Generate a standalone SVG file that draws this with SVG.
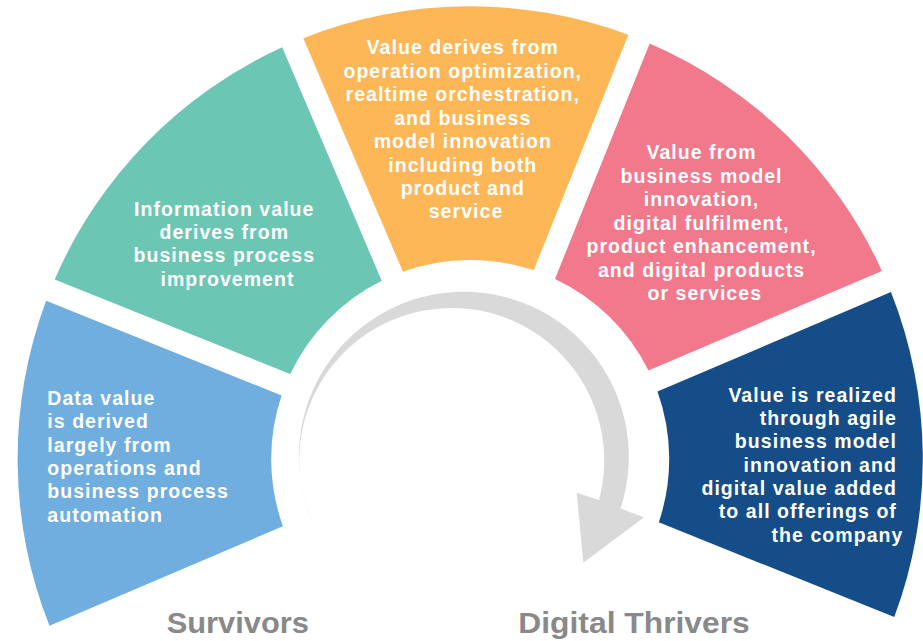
<svg xmlns="http://www.w3.org/2000/svg" width="923" height="641" viewBox="0 0 923 641">
  <style>
    .seg { stroke: none; }
    .lbl { font-family: "Liberation Sans", Arial, sans-serif; font-weight: bold; font-size: 19.5px; letter-spacing: 1.05px; fill: #ffffff; }
    .mid { text-anchor: middle; }
    .end { text-anchor: end; }
    .title { font-family: "Liberation Sans", Arial, sans-serif; font-weight: bold; font-size: 29.5px; fill: #898989; }
    .arrow { fill: #d9d9d9; stroke: none; }
  </style>
  <rect width="923" height="641" fill="#ffffff"/>

  <g id="seg-data">
    <path class="seg" fill="#6faede" transform="translate(470.2 458.9) rotate(-0.59)" d="M -422.41 162.52 A 452.6 452.6 0 0 1 -422.41 -162.52 L -187.95 -65.40 A 199 199 0 0 0 -187.95 65.40 Z"/>
    <text class="lbl">
      <tspan x="47.3" y="405">Data value</tspan>
      <tspan x="47.3" y="428.3">is derived</tspan>
      <tspan x="47.3" y="451.7">largely from</tspan>
      <tspan x="47.3" y="475">operations and</tspan>
      <tspan x="47.3" y="498.3">business process</tspan>
      <tspan x="47.3" y="521.7">automation</tspan>
    </text>
  </g>

  <g id="seg-information">
    <path class="seg" fill="#6bc6b3" transform="translate(470.2 458.9) rotate(-0.59)" d="M -413.61 -183.77 A 452.6 452.6 0 0 1 -183.77 -413.61 L -86.65 -179.14 A 199 199 0 0 0 -179.14 -86.65 Z"/>
    <text class="lbl mid">
      <tspan x="227.5" y="215.7">Information value</tspan>
      <tspan x="227.5" y="239">derives from</tspan>
      <tspan x="227.5" y="262.3">business process</tspan>
      <tspan x="227.5" y="285.6">improvement</tspan>
    </text>
  </g>

  <g id="seg-value">
    <path class="seg" fill="#fdb757" transform="translate(470.2 458.9) rotate(-0.59)" d="M -162.52 -422.41 A 452.6 452.6 0 0 1 162.52 -422.41 L 65.40 -187.95 A 199 199 0 0 0 -65.40 -187.95 Z"/>
    <text class="lbl mid">
      <tspan x="466" y="54.3">Value derives from</tspan>
      <tspan x="466" y="77.7">operation optimization,</tspan>
      <tspan x="466" y="101.2">realtime orchestration,</tspan>
      <tspan x="466" y="124.6">and business</tspan>
      <tspan x="466" y="148">model innovation</tspan>
      <tspan x="466" y="171.5">including both</tspan>
      <tspan x="466" y="194.9">product and</tspan>
      <tspan x="466" y="218.3">service</tspan>
    </text>
  </g>

  <g id="seg-business">
    <path class="seg" fill="#f2798c" transform="translate(470.2 458.9) rotate(-0.59)" d="M 183.77 -413.61 A 452.6 452.6 0 0 1 413.61 -183.77 L 179.14 -86.65 A 199 199 0 0 0 86.65 -179.14 Z"/>
    <text class="lbl mid">
      <tspan x="704.8" y="159.3">Value from</tspan>
      <tspan x="704.8" y="182.8">business model</tspan>
      <tspan x="704.8" y="206.3">innovation,</tspan>
      <tspan x="704.8" y="229.8">digital fulfilment,</tspan>
      <tspan x="704.8" y="253.3">product enhancement,</tspan>
      <tspan x="704.8" y="276.8">and digital products</tspan>
      <tspan x="704.8" y="300.3">or services</tspan>
    </text>
  </g>

  <g id="seg-agile">
    <path class="seg" fill="#154d88" transform="translate(470.2 458.9) rotate(-0.59)" d="M 422.41 -162.52 A 452.6 452.6 0 0 1 422.41 162.52 L 187.95 65.40 A 199 199 0 0 0 187.95 -65.40 Z"/>
    <text class="lbl end">
      <tspan x="903.4" y="401.7">Value is realized</tspan>
      <tspan x="903.4" y="425">through agile</tspan>
      <tspan x="903.4" y="448.4">business model</tspan>
      <tspan x="903.4" y="471.7">innovation and</tspan>
      <tspan x="903.4" y="495">digital value added</tspan>
      <tspan x="903.4" y="518.4">to all offerings of</tspan>
      <tspan x="903.4" y="541.7">the company</tspan>
    </text>
  </g>

  <g id="connectors">
    <path class="arrow" d="M 314.5 527 A 165 165 0 1 1 620.5 508.5 L 644 517.3 L 583.3 562.7 L 576.7 492.7 L 599 500 A 152.5 152.5 0 1 0 314.5 527 Z"/>
  </g>

  <g id="label-survivors">
    <text class="title" x="166.7" y="633.3" textLength="142.3" lengthAdjust="spacingAndGlyphs">Survivors</text>
  </g>
  <g id="label-thrivers">
    <text class="title" x="518.3" y="633.3" textLength="231.5" lengthAdjust="spacingAndGlyphs">Digital Thrivers</text>
  </g>
</svg>
